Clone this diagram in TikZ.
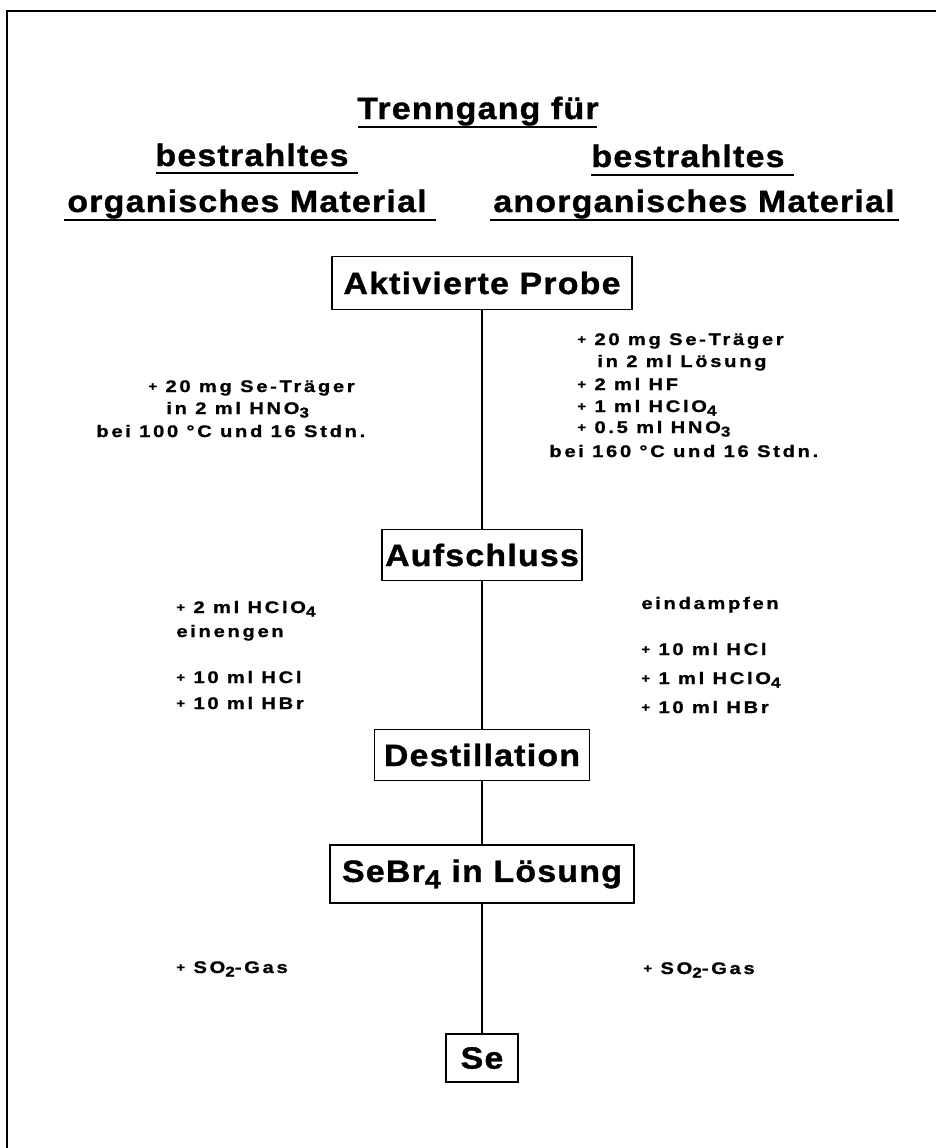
\documentclass[tikz,border=0pt]{standalone}
\usepackage{fontspec}
\setmainfont{Liberation Sans}
\newfontfamily\kastenfont[LetterSpace=4,FakeStretch=1.1,FakeBold=1.2]{Liberation Sans}
\newfontfamily\notizfont[LetterSpace=16,FakeStretch=1.2,FakeBold=1]{Liberation Sans}
\newcommand{\tief}[1]{\raisebox{-0.4ex}{\scalebox{0.85}{#1}}}
\newcommand{\plus}{\raisebox{0.15ex}{\scalebox{0.75}{+}}}
\tikzset{
  kopf/.style={font=\kastenfont\bfseries\fontsize{15.4}{18}\selectfont,anchor=base,inner sep=0pt},
  kasten/.style={draw,line width=0.6pt,inner sep=0pt,font=\kastenfont\bfseries\fontsize{15.4}{18}\selectfont},
  notiz/.style={font=\notizfont\bfseries\fontsize{8.4}{10}\selectfont,anchor=base west,inner sep=0pt},
  strich/.style={line width=0.7pt},
  linie/.style={line width=0.6pt}
}

\begin{document}
\begin{tikzpicture}[x=0.5pt,y=-0.5pt]
        \useasboundingbox (0,0) rectangle (936,1148);
        \draw[line width=0.9pt] (7,1148) -- (7,11) -- (936,11);
        \node[kopf] (trenn) at (478,119) {Trenngang für};
        \node[kopf] (bestrL) at (252,166) {bestrahltes};
        \node[kopf] (org) at (247,212) {organisches Material};
        \node[kopf] (bestrR) at (688,167) {bestrahltes};
        \node[kopf] (anorg) at (694,212) {anorganisches Material};
        \draw[strich] (358,127) -- (597,127);
        \draw[strich] (156,173) -- (358,173);
        \draw[strich] (64,220) -- (436,220);
        \draw[strich] (591,175) -- (794,175);
        \draw[strich] (490,220) -- (899,220);
        \node[kasten,minimum width=150pt,minimum height=26.5pt] (probe) at (482,283) {Aktivierte Probe};
        \node[kasten,minimum width=100pt,minimum height=25.5pt] (aufschl) at (482,555) {Aufschluss};
        \node[kasten,minimum width=107.5pt,minimum height=25.5pt] (destill) at (482,755) {Destillation};
        \node[kasten,minimum width=152pt,minimum height=29pt] (sebr) at (482,874) {SeBr\tief{4} in Lösung};
        \node[kasten,minimum width=36pt,minimum height=24pt] (se) at (482,1058) {Se};
        \draw[linie] (probe) -- (aufschl);
        \draw[linie] (aufschl) -- (destill);
        \draw[linie] (destill) -- (sebr);
        \draw[linie] (sebr) -- (se);
        \foreach \n/\x/\y/\t in {
            l1/148/392/{\plus{} 20 mg Se-Träger}, l2/166/414/{in 2 ml HNO\tief{3}},
            l3/96/437/{bei 100 °C und 16 Stdn.},
            r1/577/345/{\plus{} 20 mg Se-Träger}, r2/597/367/{in 2 ml Lösung},
            r3/577/390/{\plus{} 2 ml HF}, r4/577/412/{\plus{} 1 ml HClO\tief{4}},
            r5/577/433/{\plus{} 0.5 ml HNO\tief{3}}, r6/549/457/{bei 160 °C und 16 Stdn.},
            l4/176/613/{\plus{} 2 ml HClO\tief{4}}, l5/176/637/{einengen},
            l6/176/683/{\plus{} 10 ml HCl}, l7/176/709/{\plus{} 10 ml HBr},
            r7/641/609/{eindampfen}, r8/641/655/{\plus{} 10 ml HCl},
            r9/641/684/{\plus{} 1 ml HClO\tief{4}}, r10/641/713/{\plus{} 10 ml HBr},
            l8/176/973/{\plus{} SO\tief{2}-Gas}, r11/643/974/{\plus{} SO\tief{2}-Gas}}
          \node[notiz] (\n) at (\x,\y) {\t};
\end{tikzpicture}
\end{document}
